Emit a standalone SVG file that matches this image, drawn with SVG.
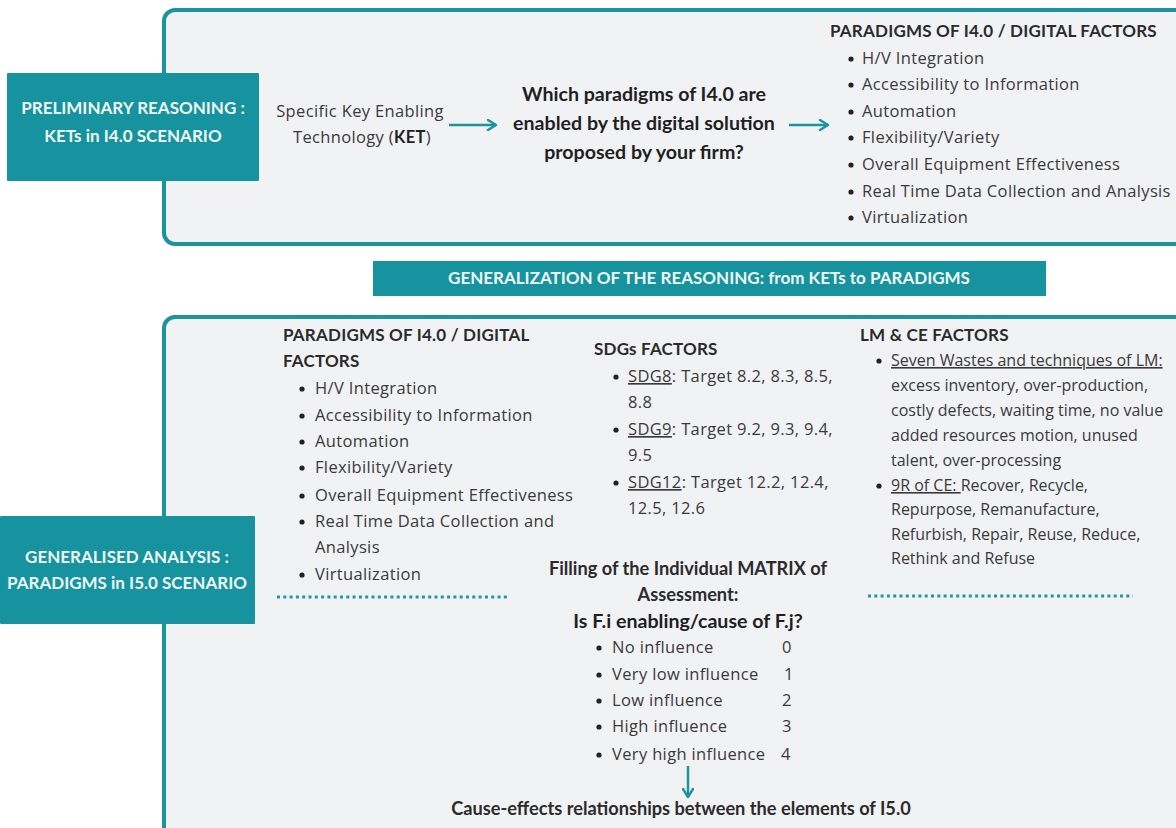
<svg xmlns="http://www.w3.org/2000/svg" width="1176" height="828" viewBox="0 0 1176 828">
  <defs>
    <marker id="chev2" viewBox="0 0 12 12" refX="10" refY="6" markerWidth="12" markerHeight="12" orient="auto" markerUnits="userSpaceOnUse">
      <polyline points="2,1 10,6 2,11" fill="none" stroke="#1b949e" stroke-width="2.4" stroke-linecap="round" stroke-linejoin="round"/>
    </marker>
    <style>
      .panel { fill: #f1f2f4; stroke: #1b949e; stroke-width: 4; }
      .tag { fill: #16939e; }
      .tagtxt { font-family: Lato, "Open Sans", sans-serif; font-weight: 700; font-size: 17px; fill: #eef7f4; text-anchor: middle; }
      .head { font-family: Lato, "Open Sans", sans-serif; font-weight: 700; font-size: 17px; letter-spacing: 0.2px; fill: #2b2b2b; }
      .sub { font-family: Lato, "Open Sans", sans-serif; font-weight: 700; font-size: 18.2px; fill: #2b2b2b; text-anchor: middle; }
      .q { font-family: Lato, "Open Sans", sans-serif; font-weight: 700; font-size: 19.6px; fill: #1f1f1f; text-anchor: middle; }
      .body { font-family: "Open Sans", "Noto Sans", sans-serif; font-size: 16.5px; letter-spacing: 0.35px; fill: #3a3a3a; }
      .lm { font-size: 16px; letter-spacing: 0px; }
      .bul { fill: #222; }
      .link { fill: none; stroke: #1b949e; stroke-width: 2.5; }
      .dots { stroke: #1b9aa5; stroke-width: 3.2; stroke-dasharray: 3 3.3; fill: none; }
      .u { text-decoration: underline; }
    </style>
  </defs>

  <rect width="1176" height="828" fill="#ffffff"/>

  <!-- top panel: preliminary reasoning -->
  <g id="panel-preliminary">
    <rect class="panel" x="164" y="10" width="1040" height="234" rx="11"/>
  </g>

  <g id="tag-preliminary">
    <rect class="tag" x="7" y="73" width="252" height="108" rx="1"/>
    <text class="tagtxt" x="133" y="114">PRELIMINARY REASONING :</text>
    <text class="tagtxt" x="133" y="142">KETs in I4.0 SCENARIO</text>
  </g>

  <g id="node-ket">
    <text class="body" x="360" y="117" text-anchor="middle">Specific Key Enabling</text>
    <text class="body" x="362" y="143" text-anchor="middle">Technology (<tspan font-family="Lato, sans-serif" font-weight="700" fill="#222">KET</tspan>)</text>
  </g>

  <g id="node-question">
    <text class="q" x="644" y="101">Which paradigms of I4.0 are</text>
    <text class="q" x="644" y="130">enabled by the digital solution</text>
    <text class="q" x="644" y="159">proposed by your firm?</text>
  </g>

  <g id="node-paradigms-top">
    <text class="head" x="830" y="37">PARADIGMS OF I4.0 / DIGITAL FACTORS</text>
    <g class="bul">
      <circle cx="851" cy="59" r="2.6"/>
      <circle cx="851" cy="85" r="2.6"/>
      <circle cx="851" cy="112" r="2.6"/>
      <circle cx="851" cy="138" r="2.6"/>
      <circle cx="851" cy="165" r="2.6"/>
      <circle cx="851" cy="192" r="2.6"/>
      <circle cx="851" cy="218" r="2.6"/>
    </g>
    <text class="body" x="862" y="64">H/V Integration</text>
    <text class="body" x="862" y="90">Accessibility to Information</text>
    <text class="body" x="862" y="117">Automation</text>
    <text class="body" x="862" y="143">Flexibility/Variety</text>
    <text class="body" x="862" y="170">Overall Equipment Effectiveness</text>
    <text class="body" x="862" y="197">Real Time Data Collection and Analysis</text>
    <text class="body" x="862" y="223">Virtualization</text>
  </g>

  <g id="banner-generalization">
    <rect class="tag" x="373" y="261" width="673" height="35"/>
    <text class="tagtxt" x="709" y="284">GENERALIZATION OF THE REASONING: from KETs to PARADIGMS</text>
  </g>

  <!-- bottom panel: generalised analysis -->
  <g id="panel-generalised">
    <rect class="panel" x="164" y="317" width="1040" height="540" rx="11"/>
  </g>

  <g id="tag-generalised">
    <rect class="tag" x="0" y="516" width="255" height="108" rx="1"/>
    <text class="tagtxt" x="127" y="563">GENERALISED ANALYSIS :</text>
    <text class="tagtxt" x="127" y="589">PARADIGMS in I5.0 SCENARIO</text>
  </g>

  <g id="node-paradigms">
    <text class="head" x="283" y="341">PARADIGMS OF I4.0 / DIGITAL</text>
    <text class="head" x="283" y="367">FACTORS</text>
    <g class="bul">
      <circle cx="302" cy="389" r="2.6"/>
      <circle cx="302" cy="416" r="2.6"/>
      <circle cx="302" cy="442" r="2.6"/>
      <circle cx="302" cy="468" r="2.6"/>
      <circle cx="302" cy="496" r="2.6"/>
      <circle cx="302" cy="522" r="2.6"/>
      <circle cx="302" cy="575" r="2.6"/>
    </g>
    <text class="body" x="315" y="394">H/V Integration</text>
    <text class="body" x="315" y="421">Accessibility to Information</text>
    <text class="body" x="315" y="447">Automation</text>
    <text class="body" x="315" y="473">Flexibility/Variety</text>
    <text class="body" x="315" y="501">Overall Equipment Effectiveness</text>
    <text class="body" x="315" y="527">Real Time Data Collection and</text>
    <text class="body" x="315" y="553">Analysis</text>
    <text class="body" x="315" y="580">Virtualization</text>
    <line class="dots" x1="277" y1="597" x2="510" y2="597"/>
  </g>

  <g id="node-sdgs">
    <text class="head" x="594" y="355">SDGs FACTORS</text>
    <g class="bul">
      <circle cx="616" cy="377" r="2.6"/>
      <circle cx="616" cy="430" r="2.6"/>
      <circle cx="616" cy="483" r="2.6"/>
    </g>
    <text class="body" x="628" y="382"><tspan class="u">SDG8</tspan>: Target 8.2, 8.3, 8.5,</text>
    <text class="body" x="628" y="408">8.8</text>
    <text class="body" x="628" y="435"><tspan class="u">SDG9</tspan>: Target 9.2, 9.3, 9.4,</text>
    <text class="body" x="628" y="461">9.5</text>
    <text class="body" x="628" y="488"><tspan class="u">SDG12</tspan>: Target 12.2, 12.4,</text>
    <text class="body" x="628" y="514">12.5, 12.6</text>
  </g>

  <g id="node-lmce">
    <text class="head" x="860" y="341">LM &amp; CE FACTORS</text>
    <g class="bul">
      <circle cx="879" cy="361" r="2.6"/>
      <circle cx="879" cy="486" r="2.6"/>
    </g>
    <text class="body lm" x="891" y="366"><tspan class="u">Seven Wastes and techniques of LM:</tspan></text>
    <text class="body lm" x="891" y="391">excess inventory, over-production,</text>
    <text class="body lm" x="891" y="416">costly defects, waiting time, no value</text>
    <text class="body lm" x="891" y="441">added resources motion, unused</text>
    <text class="body lm" x="891" y="466">talent, over-processing</text>
    <text class="body lm" x="891" y="491"><tspan class="u">9R of CE: </tspan>Recover, Recycle,</text>
    <text class="body lm" x="891" y="515">Repurpose, Remanufacture,</text>
    <text class="body lm" x="891" y="540">Refurbish, Repair, Reuse, Reduce,</text>
    <text class="body lm" x="891" y="564">Rethink and Refuse</text>
    <line class="dots" x1="868" y1="596" x2="1133" y2="596"/>
  </g>

  <g id="node-matrix">
    <text class="sub" x="688" y="575">Filling of the Individual MATRIX of</text>
    <text class="sub" x="688" y="601">Assessment:</text>
    <text class="q" x="688" y="628">Is F.i enabling/cause of F.j?</text>
    <g class="bul">
      <circle cx="599" cy="648" r="2.6"/>
      <circle cx="599" cy="675" r="2.6"/>
      <circle cx="599" cy="701" r="2.6"/>
      <circle cx="599" cy="727" r="2.6"/>
      <circle cx="599" cy="755" r="2.6"/>
    </g>
    <text class="body" x="612" y="653">No influence</text>
    <text class="body" x="782" y="653">0</text>
    <text class="body" x="612" y="680">Very low influence</text>
    <text class="body" x="784" y="680">1</text>
    <text class="body" x="612" y="706">Low influence</text>
    <text class="body" x="782" y="706">2</text>
    <text class="body" x="612" y="732">High influence</text>
    <text class="body" x="782" y="732">3</text>
    <text class="body" x="612" y="760">Very high influence</text>
    <text class="body" x="781" y="760">4</text>
  </g>

  <g id="node-cause-effects">
    <text class="sub" x="681" y="815">Cause-effects relationships between the elements of I5.0</text>
  </g>

  <g id="connectors">
    <line class="link" x1="449" y1="125" x2="496" y2="125" marker-end="url(#chev2)"/>
    <line class="link" x1="789" y1="125" x2="828" y2="125" marker-end="url(#chev2)"/>
    <line class="link" x1="688" y1="766" x2="688" y2="797" marker-end="url(#chev2)"/>
  </g>
</svg>
